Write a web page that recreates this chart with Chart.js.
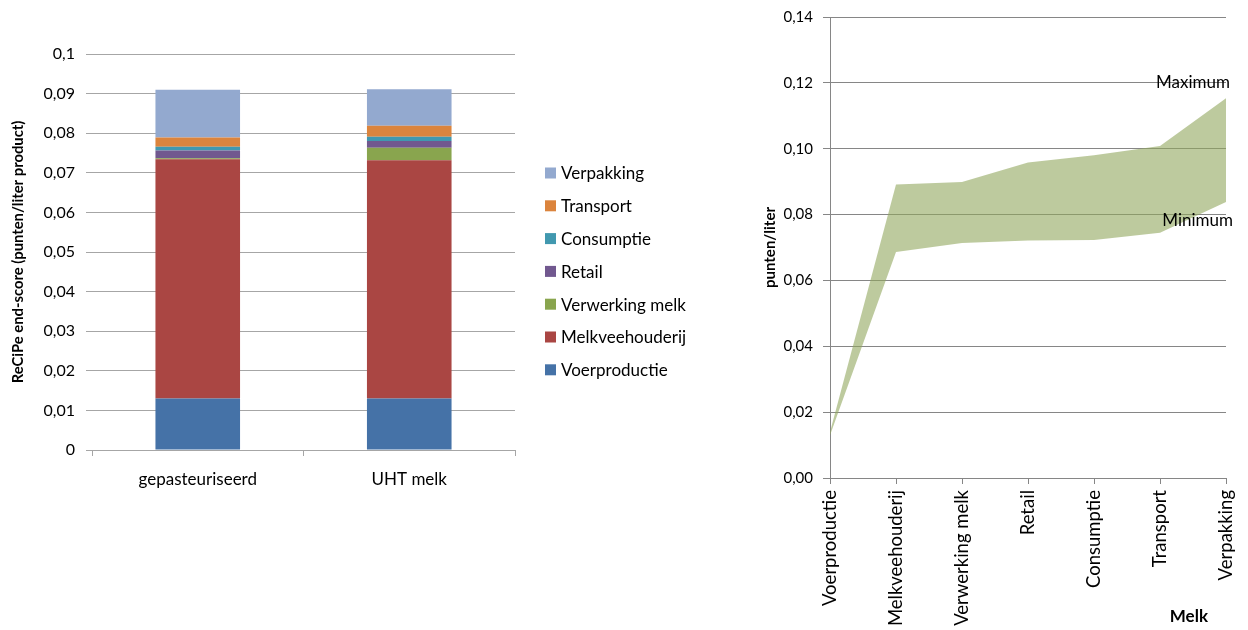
<!DOCTYPE html>
<html lang="nl">
<head>
<meta charset="UTF-8">
<title>ReCiPe melk</title>
<style>
  body { margin: 0; background: #fff; }
  .wrap { position: relative; width: 1248px; height: 630px; }
  #stacked { position: absolute; left: 0; top: 0; }
  #range { position: absolute; left: 740px; top: 0; }
</style>
</head>
<body>
<div class="wrap">
  <canvas id="stacked" width="720" height="500"></canvas>
  <canvas id="range" width="508" height="630"></canvas>
</div>
<script src="https://cdn.jsdelivr.net/npm/chart.js@4.4.1/dist/chart.umd.min.js"></script>
<script>
// linker grafiek: gestapelde staven per product
const products = ["gepasteuriseerd", "UHT melk"];
const voerproductie = [0.0130, 0.0130];
const melkveehouderij = [0.0604, 0.0602];
const verwerkingMelk = [0.0003, 0.0031];
const retail = [0.0019, 0.0017];
const consumptie = [0.0010, 0.0011];
const transport = [0.0023, 0.0028];
const verpakking = [0.0121, 0.0092];
const leftTicks = [0, 0.01, 0.02, 0.03, 0.04, 0.05, 0.06, 0.07, 0.08, 0.09, 0.1];

// rechter grafiek: bandbreedte min - max per schakel
const stages = ["Voerproductie", "Melkveehouderij", "Verwerking melk", "Retail", "Consumptie", "Transport", "Verpakking"];
const minimum = [0.0130, 0.0686, 0.0714, 0.0721, 0.0723, 0.0745, 0.0838];
const maximum = [0.0140, 0.0891, 0.0899, 0.0958, 0.0980, 0.1008, 0.1153];
const rightTicks = [0, 0.02, 0.04, 0.06, 0.08, 0.10, 0.12, 0.14];

const FONT = "Lato, 'Open Sans', sans-serif";
Chart.defaults.font.family = FONT;
Chart.defaults.color = "#000";
Chart.defaults.animation = false;

const comma = v => String(Math.round(v * 100) / 100).replace(".", ",");

// legenda rechts naast de staven, omgekeerde volgorde
const sideLegend = {
    id: "sideLegend",
    afterDraw(chart) {
        const ctx = chart.ctx;
        const sets = chart.data.datasets.slice().reverse();
        const x = chart.chartArea.right + 30;
        let y = 173;
        ctx.save();
        ctx.font = "17px " + FONT;
        ctx.textBaseline = "middle";
        sets.forEach(ds => {
            ctx.fillStyle = ds.backgroundColor;
            ctx.fillRect(x, y - 5.5, 11, 11);
            ctx.fillStyle = "#000";
            ctx.fillText(ds.label, x + 16, y + 1);
            y += 32.8;
        });
        ctx.restore();
    }
};

new Chart(document.getElementById("stacked"), {
    type: "bar",
    data: {
        labels: products,
        datasets: [
            { label: "Voerproductie", data: voerproductie, backgroundColor: "#4572a7" },
            { label: "Melkveehouderij", data: melkveehouderij, backgroundColor: "#aa4643" },
            { label: "Verwerking melk", data: verwerkingMelk, backgroundColor: "#89a54e" },
            { label: "Retail", data: retail, backgroundColor: "#71588f" },
            { label: "Consumptie", data: consumptie, backgroundColor: "#4198af" },
            { label: "Transport", data: transport, backgroundColor: "#db843d" },
            { label: "Verpakking", data: verpakking, backgroundColor: "#93a9cf" },
        ],
    },
    options: {
        responsive: false,
        barPercentage: 0.4,
        categoryPercentage: 1,
        layout: { padding: { left: 0, top: 54, right: 205, bottom: 0 } },
        plugins: { legend: { display: false }, tooltip: { enabled: false } },
        scales: {
            x: {
                stacked: true,
                afterFit: s => { s.height = 50; s.paddingLeft = 0; s.paddingRight = 0; },
                border: { color: "#a6a6a6" },
                grid: { drawOnChartArea: false, tickLength: 6, color: "#a6a6a6" },
                ticks: { font: { size: 17 }, padding: 13, maxRotation: 0 },
            },
            y: {
                stacked: true,
                min: 0,
                max: 0.1,
                afterBuildTicks: s => { s.ticks = leftTicks.map(v => ({ value: v })); },
                afterFit: s => { s.width = 92; },
                border: { display: false },
                grid: { color: "#a6a6a6", tickLength: 6 },
                ticks: { font: { size: 16 }, padding: 11, callback: v => comma(v) },
                title: {
                    display: true,
                    text: "ReCiPe end-score (punten/liter product)",
                    font: { size: 14.8, weight: "bold" },
                    padding: { top: 9, bottom: 0 },
                },
            },
        },
    },
    plugins: [sideLegend],
});

// tekst "Maximum" / "Minimum" bij het laatste punt, en de astitel "Melk"
const rangeLabels = {
    id: "rangeLabels",
    afterDatasetsDraw(chart) {
        const ctx = chart.ctx;
        const minPt = chart.getDatasetMeta(0).data[minimum.length - 1];
        const maxPt = chart.getDatasetMeta(1).data[maximum.length - 1];
        ctx.save();
        ctx.font = "17px " + FONT;
        ctx.fillStyle = "#000";
        ctx.textAlign = "right";
        ctx.textBaseline = "middle";
        ctx.fillText("Maximum", maxPt.x + 4, maxPt.y - 16);
        ctx.fillText("Minimum", minPt.x + 7, minPt.y + 18);
        ctx.font = "bold 17px " + FONT;
        ctx.fillText("Melk", chart.chartArea.right - 18, 617);
        ctx.restore();
    }
};

new Chart(document.getElementById("range"), {
    type: "line",
    data: {
        labels: stages,
        datasets: [
            { label: "Minimum", data: minimum, borderWidth: 0, pointRadius: 0, fill: false },
            { label: "Maximum", data: maximum, borderWidth: 0, pointRadius: 0,
              fill: "-1", backgroundColor: "rgba(145, 167, 93, 0.6)" },
        ],
    },
    options: {
        responsive: false,
        layout: { padding: { left: 0, top: 17, right: 22, bottom: 0 } },
        plugins: { legend: { display: false }, tooltip: { enabled: false } },
        scales: {
            x: {
                offset: false,
                afterFit: s => { s.height = 152; s.paddingLeft = 0; s.paddingRight = 0; },
                border: { color: "#868686" },
                grid: { drawOnChartArea: false, tickLength: 6, color: "#868686", offset: false },
                ticks: { font: { size: 18.5 }, minRotation: 90, maxRotation: 90, autoSkip: false, padding: 6 },
            },
            y: {
                min: 0,
                max: 0.14,
                afterBuildTicks: s => { s.ticks = rightTicks.map(v => ({ value: v })); },
                afterFit: s => { s.width = 90; s.paddingTop = 0; s.paddingBottom = 0; },
                border: { color: "#868686" },
                grid: { color: "#868686", tickLength: 7 },
                ticks: { font: { size: 15 }, padding: 10, callback: v => v.toFixed(2).replace(".", ",") },
                title: {
                    display: true,
                    text: "punten/liter",
                    font: { size: 15, weight: "bold" },
                    padding: { top: 21, bottom: 0 },
                },
            },
        },
    },
    plugins: [rangeLabels],
});
</script>
</body>
</html>
